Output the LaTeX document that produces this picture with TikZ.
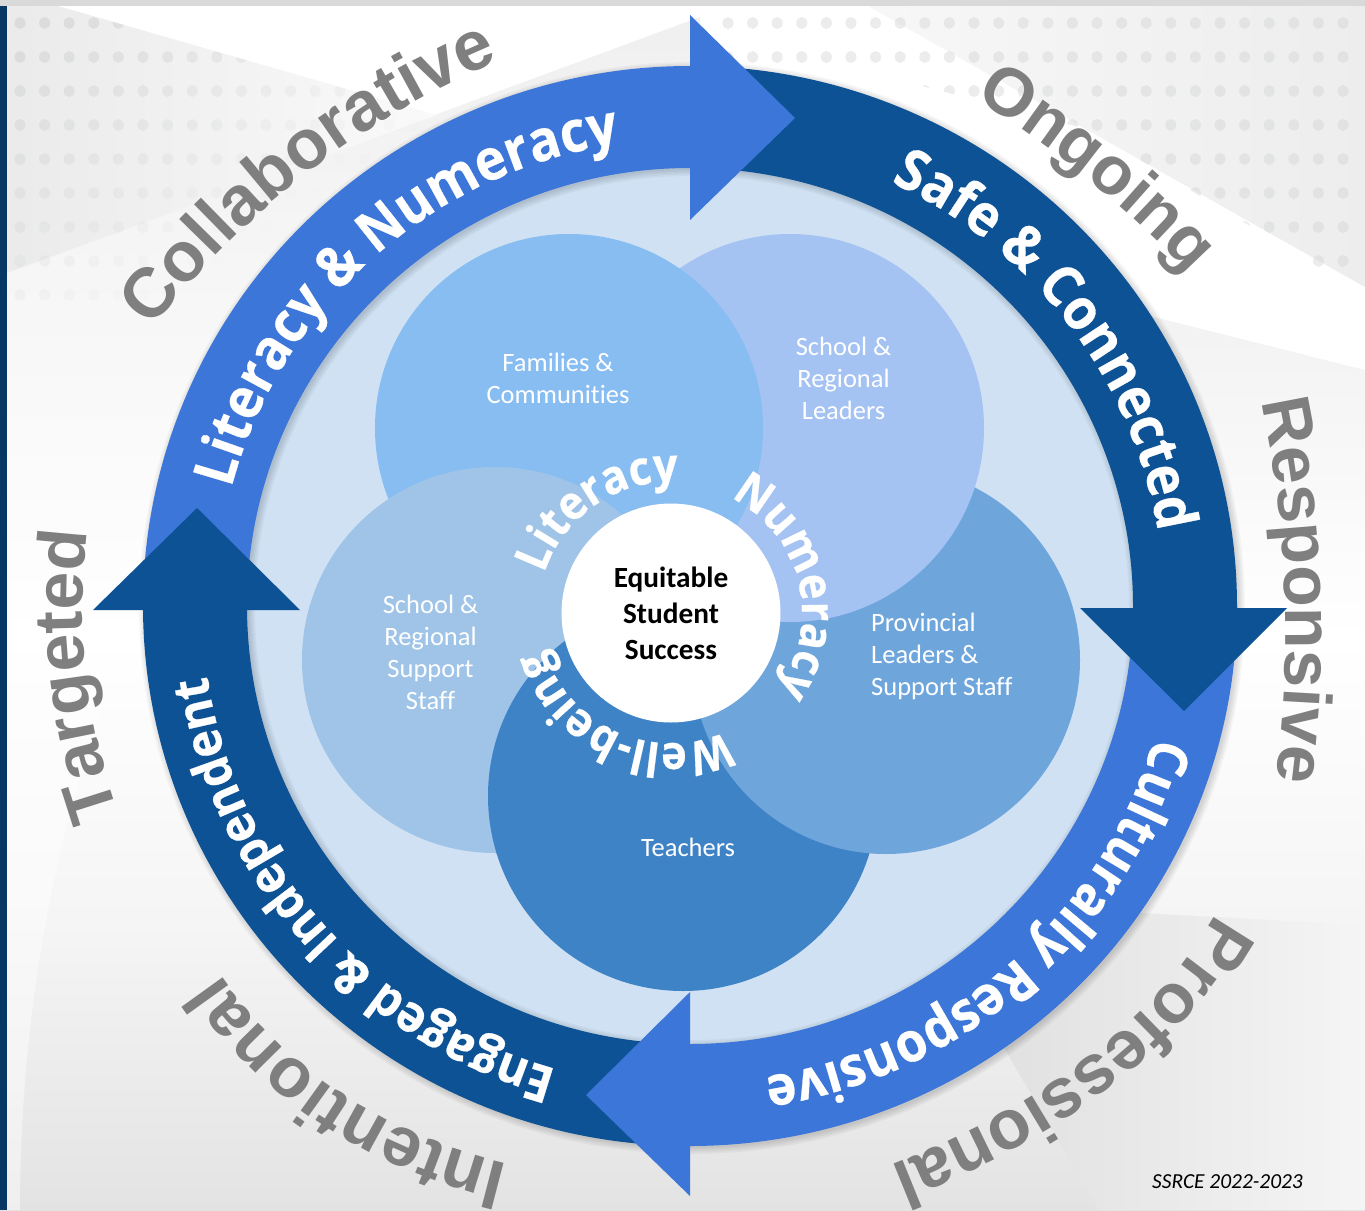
\documentclass[tikz,border=0pt]{standalone}
\usepackage{fontspec}
\usetikzlibrary{decorations.text}
\newfontfamily\opensans[FakeStretch=0.92,BoldFeatures={FakeStretch=0.92,FakeBold=0.5}]{Open Sans}
\newfontfamily\carlito[Ligatures=NoCommon]{Carlito}
\newfontfamily\libsans{Liberation Sans}
\newcommand\fBand{\opensans\bfseries\fontsize{57}{64}\selectfont}
\newcommand\fBandS{\opensans\bfseries\fontsize{55}{60}\selectfont}
\newcommand\fBandE{\opensans\bfseries\fontsize{51}{60}\selectfont}
\newcommand\fInner{\opensans\bfseries\fontsize{47}{54}\selectfont}
\newcommand\fOuter{\libsans\bfseries\fontsize{68}{76}\selectfont}
\newcommand\fOuterB{\libsans\bfseries\fontsize{70}{78}\selectfont}
\definecolor{bandblue}{HTML}{3C76D8}
\definecolor{banddark}{HTML}{0D5295}
\definecolor{discc}{HTML}{CFE1F3}
\definecolor{cFam}{HTML}{88BDF1}
\definecolor{cLead}{HTML}{A4C2F2}
\definecolor{cProv}{HTML}{6EA6DC}
\definecolor{cTeach}{HTML}{3F83C7}
\definecolor{cSupp}{HTML}{9FC4E8}
\definecolor{outergray}{HTML}{7F7F7F}
\definecolor{navy}{HTML}{073763}
\definecolor{dotc}{HTML}{D2D3D3}
% angle1 angle2 radius font colour text (clockwise arc, widened so no letter drops off)
\newcommand\arctext[6]{\pgfmathsetmacro\aS{#1+4}\pgfmathsetmacro\aE{#2-4}%
  \path[decorate,decoration={text along path,text align=center,text color=#5,text={|#4|#6}}]
  (\aS:#3 and {0.987*#3}) arc[start angle=\aS,end angle=\aE,x radius=#3,y radius={0.987*#3}];}
% baseline through three points (start, middle, end), widened by 20% at each end
\newcommand\curvtext[7]{%
  \def\getxy##1,##2;{\def\qx{##1}\def\qy{##2}}%
  \getxy#1;\let\sx\qx\let\sy\qy
  \getxy#2;\let\mx\qx\let\my\qy
  \getxy#3;\let\ex\qx\let\ey\qy
  \pgfmathsetmacro\cx{2*\mx-(\sx+\ex)/2}\pgfmathsetmacro\cy{2*\my-(\sy+\ey)/2}%
  \pgfmathsetmacro\pax{1.44*\sx-.48*\cx+.04*\ex}\pgfmathsetmacro\pay{1.44*\sy-.48*\cy+.04*\ey}%
  \pgfmathsetmacro\pcx{.04*\sx-.48*\cx+1.44*\ex}\pgfmathsetmacro\pcy{.04*\sy-.48*\cy+1.44*\ey}%
  \pgfmathsetmacro\pbx{-.24*\sx+1.48*\cx-.24*\ex}\pgfmathsetmacro\pby{-.24*\sy+1.48*\cy-.24*\ey}%
  \pgfmathsetmacro\qax{\pax+2/3*(\pbx-\pax)}\pgfmathsetmacro\qay{\pay+2/3*(\pby-\pay)}%
  \pgfmathsetmacro\qbx{\pcx+2/3*(\pbx-\pcx)}\pgfmathsetmacro\qby{\pcy+2/3*(\pby-\pcy)}%
  \path[decorate,decoration={text along path,text align=center,text color=#5,text={|#4|#6}}]
  (\pax,\pay) .. controls (\qax,\qay) and (\qbx,\qby) .. (\pcx,\pcy);#7}
\tikzset{
  lbl/.style={text=white,align=center,font=\carlito\fontsize{26.5}{32}\selectfont,inner sep=0pt},
}
\begin{document}
\begin{tikzpicture}[x=1pt,y=-1pt]
\useasboundingbox (0,0) rectangle (1365,1210);
% background
\fill[white] (0,0) rectangle (1365,1210);
\shade[top color=white,bottom color=black!11,middle color=black!4] (0,640) rectangle (1365,1210);
\fill[white,opacity=.45] (7,640) -- (130,640) .. controls (60,800) and (20,1000) .. (20,1210) -- (7,1210) -- cycle;
\shade[top color=black!6,bottom color=white] (7,273) -- (700,17) -- (700,640) -- (7,640) -- cycle;
\shade[left color=black!8,right color=black!2] (7,6) -- (58,6) -- (437,115) -- (7,273) -- cycle;
\shade[left color=black!3,right color=black!7] (868,6) -- (1365,6) -- (1365,287) -- cycle;
\shade[top color=black!5,bottom color=white] (1138,313) -- (1365,370) -- (1365,640) -- (1240,640) -- cycle;
\shade[left color=black!14,right color=black!4] (900,900) -- (1007,1053) -- (1099,1210) -- (1365,1210) -- (1365,925) -- cycle;
\begin{scope}
\clip (7,6) -- (58,6) -- (437,115) -- (437,300) -- (7,300) -- cycle;
\foreach \yy in {23,57,91,125,159,193,227,261,295}
  \foreach \xx in {20,44.6,...,440}{
    \pgfmathsetmacro\op{max(0,0.7-(\xx+1.5*\yy)/900)}
    \fill[dotc,opacity=\op] (\xx,\yy) ellipse[x radius=5.5pt,y radius=6pt];
  }
\end{scope}
\begin{scope}
\clip (700,6) -- (1365,6) -- (1365,295) -- (1090,130) -- (880,75) -- (700,75) -- cycle;
\foreach \yy in {23,57,91,125,159,193,227,261}
  \foreach \xx in {728,752.6,...,1365}{
    \fill[dotc,opacity=.42] (\xx,\yy) ellipse[x radius=5.5pt,y radius=6pt];
  }
\end{scope}
% strips
\fill[black!15] (0,0) rectangle (1365,6);
\fill[navy] (0,6) rectangle (7,1210);
% ring scope
\begin{scope}[shift={(690,606)},y=1pt]
\fill[discc] (0,0) ellipse[x radius=445,y radius=440];
\foreach \d in {0,1.5,3,4.5,6}
  \fill[black,opacity=.03,even odd rule,shift={(2,-2)}]
    (0,0) ellipse[x radius=547+\d,y radius=540+\d]
    (0,0) ellipse[x radius=443-\d,y radius=438-\d];
\fill[banddark] (-90:547 and 540) arc[start angle=-90,end angle=-180,x radius=547,y radius=540]
  -- (-180:443 and 438) arc[start angle=-180,end angle=-90,x radius=443,y radius=438] -- cycle;
\fill[bandblue] (0:547 and 540) arc[start angle=0,end angle=-91,x radius=547,y radius=540]
  -- (-91:443 and 438) arc[start angle=-91,end angle=0,x radius=443,y radius=438] -- cycle;
\fill[banddark] (90:547 and 540) arc[start angle=90,end angle=-1,x radius=547,y radius=540]
  -- (-1:443 and 438) arc[start angle=-1,end angle=90,x radius=443,y radius=438] -- cycle;
\fill[bandblue] (180:547 and 540) arc[start angle=180,end angle=89,x radius=547,y radius=540]
  -- (89:443 and 438) arc[start angle=89,end angle=180,x radius=443,y radius=438] -- cycle;
\end{scope}
% circles, cyclic overlap
\fill[cTeach] (683,796) circle[radius=195pt];
\fill[cProv] (886,660) circle[radius=194pt];
\fill[cLead] (790,428) circle[radius=194pt];
\fill[cFam] (569,428) circle[radius=194pt];
\fill[cSupp] (495,660) circle[radius=193pt];
\begin{scope}
\clip (495,660) circle[radius=194.5pt];
\fill[cTeach] (683,796) circle[radius=195pt];
\end{scope}
\fill[white] (671,613) circle[radius=109.5pt];
% arrow heads
\fill[bandblue] (690,15) -- (795,118) -- (690,220) -- cycle;
\fill[banddark] (1080,608) -- (1287,608) -- (1184,711) -- cycle;
\fill[bandblue] (690,992) -- (586,1095) -- (690,1196) -- cycle;
\fill[banddark] (93,610) -- (197,508) -- (300,610) -- cycle;
% circle labels
\node[lbl] (fam) at (558,378.5) {Families \&\\Communities};
\node[lbl] (lead) at (843.5,378.5) {School \&\\Regional\\Leaders};
\node[lbl,align=left,anchor=west] (prov) at (871,656.5) {Provincial\\Leaders \&\\Support Staff};
\node[lbl] (teach) at (688,847.5) {Teachers};
\node[lbl] (supp) at (430.5,652.5) {School \&\\Regional\\Support\\Staff};
\node[inner sep=0pt,align=center,text=black,font=\carlito\bfseries\fontsize{29.3}{36}\selectfont] (core) at (671,613.5) {Equitable\\Student\\Success};
\node[inner sep=0pt,anchor=east,font=\carlito\itshape\fontsize{21.4}{24}\selectfont] (year) at (1303,1182) {SSRCE 2022-2023};
% outer words
\curvtext{154,326}{314,168}{502,60}{\fOuterB}{outergray}{Collaborative}{}
\curvtext{975,98}{1101,190}{1200,286}{\fOuter}{outergray}{Ongoing}{}
\curvtext{1260,397}{1285,592}{1275,787}{\fOuter}{outergray}{Responsive}{}
\curvtext{1226,893}{1105,1044}{902,1161}{\fOuterB}{outergray}{Professional}{}
\curvtext{516,1166}{338,1091}{211,960}{\fOuterB}{outergray}{Intentional}{}
\curvtext{120,817}{86,671}{88,525}{\fOuter}{outergray}{Targeted}{}
% band texts
\begin{scope}[shift={(690,606)},y=1pt]
\arctext{164.5}{99.5}{474}{\fBand}{white}{Literacy {\&} Numeracy}
\arctext{65.5}{8.5}{474}{\fBand}{white}{Safe {\&} Connected}
\arctext{-15.5}{-81.5}{483}{\fBandS}{white}{Culturally Responsive}
\arctext{254}{188.5}{488}{\fBandE}{white}{Engaged {\&} Independent}
\end{scope}
\begin{scope}[shift={(671,613)},y=1pt]
\arctext{163.5}{86}{133}{\fInner}{white}{Literacy}
\arctext{60}{-33}{131}{\fInner}{white}{Numeracy}
\arctext{-64}{-165}{132}{\fInner}{white}{Well-being}
\end{scope}
\end{tikzpicture}
\end{document}
